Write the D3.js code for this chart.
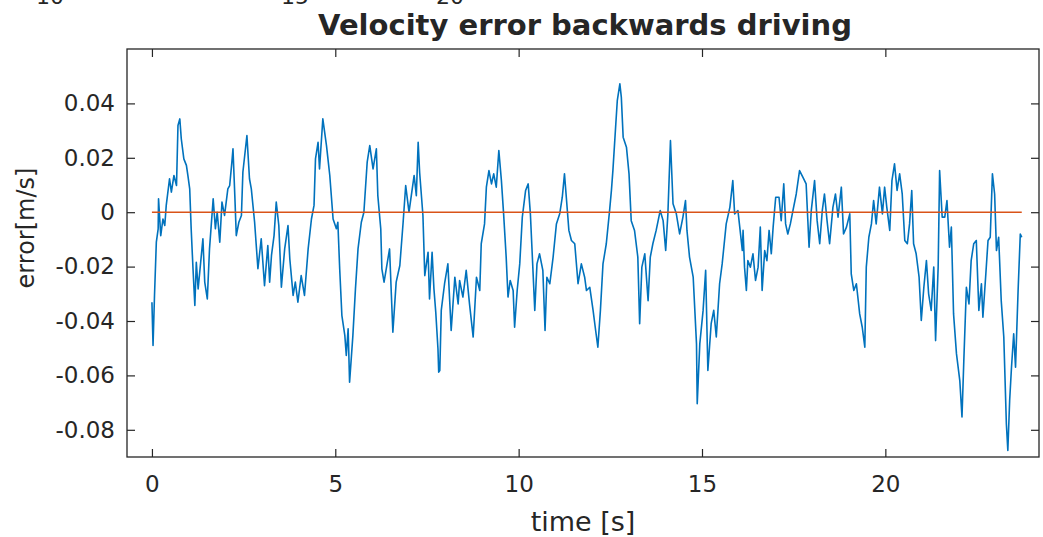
<!DOCTYPE html>
<html>
<head>
<meta charset="utf-8">
<script src="https://cdn.jsdelivr.net/npm/d3@7"></script>
<style>
  body { margin: 0; background: #fff; }
  text { font-family: "DejaVu Sans", sans-serif; fill: #262626; }
</style>
</head>
<body>
<div id="chart"></div>
<script>
// velocity error while driving backwards
const timeS = [
  0.00, 0.03, 0.07, 0.12, 0.17, 0.18, 0.24, 0.30, 0.35, 0.39, 0.48, 0.53, 0.60, 0.67, 0.71, 0.76,
  0.80, 0.87, 0.94, 0.98, 1.03, 1.07, 1.12, 1.17, 1.21, 1.26, 1.39, 1.44, 1.51, 1.57, 1.67, 1.73,
  1.78, 1.85, 1.91, 1.98, 2.07, 2.12, 2.18, 2.21, 2.26, 2.30, 2.37, 2.44, 2.48, 2.59, 2.66, 2.71,
  2.80, 2.89, 2.98, 3.07, 3.16, 3.21, 3.26, 3.33, 3.39, 3.46, 3.53, 3.62, 3.71, 3.76, 3.85, 3.91,
  3.98, 4.07, 4.16, 4.26, 4.35, 4.42, 4.46, 4.53, 4.57, 4.66, 4.76, 4.80, 4.85, 4.94, 5.03, 5.07,
  5.12, 5.18, 5.26, 5.30, 5.35, 5.39, 5.48, 5.55, 5.62, 5.71, 5.78, 5.87, 5.94, 6.03, 6.12, 6.16,
  6.24, 6.27, 6.33, 6.48, 6.53, 6.57, 6.66, 6.76, 6.85, 6.92, 7.01, 7.15, 7.21, 7.26, 7.30, 7.39,
  7.44, 7.53, 7.57, 7.64, 7.69, 7.74, 7.80, 7.82,
  7.85, 7.89, 7.98, 8.07, 8.16, 8.26, 8.35, 8.39, 8.48, 8.57, 8.66, 8.76, 8.85, 8.94, 8.98, 9.07,
  9.12, 9.19, 9.26, 9.32, 9.39, 9.46, 9.53, 9.59, 9.66, 9.71, 9.77, 9.85, 9.89, 9.96, 10.03, 10.10,
  10.19, 10.26, 10.32, 10.37, 10.44, 10.50, 10.57, 10.66, 10.72, 10.77, 10.85, 10.94, 11.03, 11.12, 11.19, 11.25,
  11.30, 11.37, 11.44, 11.53, 11.62, 11.71, 11.80, 11.85, 11.94, 12.03, 12.10, 12.16, 12.23, 12.30, 12.39, 12.48,
  12.53, 12.57, 12.65, 12.69, 12.76, 12.80, 12.85, 12.94, 13.01, 13.07, 13.16, 13.25, 13.30, 13.36, 13.44, 13.53,
  13.59, 13.66, 13.75, 13.86, 13.94, 14.01, 14.07, 14.14, 14.21, 14.30, 14.39, 14.48, 14.55, 14.59, 14.66, 14.76,
  14.85, 14.87, 14.94, 15.03, 15.10, 15.16, 15.25, 15.32, 15.39, 15.48, 15.55, 15.66, 15.76,
  15.84, 15.89, 15.98, 16.03, 16.10, 16.12, 16.16, 16.21, 16.25, 16.32, 16.39, 16.46, 16.53, 16.59, 16.64, 16.71,
  16.77, 16.83, 16.89, 16.94, 17.01, 17.10, 17.16, 17.23, 17.28, 17.34, 17.41, 17.48, 17.57, 17.66, 17.75, 17.84,
  17.92, 17.98, 18.07, 18.14, 18.21, 18.28, 18.34, 18.41, 18.48, 18.57, 18.64, 18.71, 18.80, 18.86, 18.94, 19.03,
  19.07, 19.14, 19.21, 19.30, 19.37, 19.44, 19.48, 19.55, 19.62, 19.68, 19.75, 19.84, 19.92, 19.98, 20.04, 20.12,
  20.18, 20.25, 20.32, 20.39, 20.46, 20.53, 20.60, 20.66, 20.72, 20.77, 20.84, 20.92, 20.98, 21.05, 21.12, 21.18,
  21.25, 21.32, 21.37, 21.44, 21.48, 21.55, 21.62, 21.68, 21.75, 21.80, 21.86, 21.94, 22.03, 22.09, 22.14, 22.21,
  22.28, 22.34, 22.41, 22.48, 22.55, 22.62, 22.66, 22.74, 22.80, 22.86, 22.92, 22.98, 23.03, 23.09, 23.16, 23.23,
  23.30, 23.34, 23.39, 23.44, 23.50, 23.55, 23.62, 23.68, 23.72
];
const errorMS = [
  -0.0331, -0.0490, -0.0306, -0.0110, -0.0061, 0.0049, -0.0086, -0.0025, -0.0049, 0.0025, 0.0123, 0.0074, 0.0135, 0.0098, 0.0319, 0.0343,
  0.0270, 0.0196, 0.0172, 0.0135, 0.0086, -0.0061, -0.0208, -0.0343, -0.0184, -0.0282, -0.0098, -0.0257, -0.0319, -0.0135, 0.0049, -0.0061,
  0.0000, -0.0110, 0.0037, -0.0012, 0.0086, 0.0098, 0.0184, 0.0233, 0.0061, -0.0086, -0.0037, -0.0012, 0.0147, 0.0282, 0.0123, 0.0086,
  -0.0037, -0.0208, -0.0098, -0.0270, -0.0123, -0.0257, -0.0159, -0.0086, 0.0037, -0.0049, -0.0276, -0.0135, -0.0049, -0.0172, -0.0306, -0.0257,
  -0.0331, -0.0233, -0.0306, -0.0135, -0.0025, 0.0025, 0.0196, 0.0257, 0.0159, 0.0343, 0.0245, 0.0196, 0.0135, -0.0025, -0.0061, -0.0037,
  -0.0208, -0.0380, -0.0453, -0.0527, -0.0429, -0.0625, -0.0453, -0.0282, -0.0135, -0.0037, 0.0000, 0.0184, 0.0245, 0.0159, 0.0233, 0.0061,
  -0.0061, -0.0208, -0.0257, -0.0135, -0.0306, -0.0441, -0.0257, -0.0196, -0.0037, 0.0098, 0.0000, 0.0135, 0.0061, 0.0257, 0.0147, -0.0012,
  -0.0233, -0.0147, -0.0319, -0.0147, -0.0282, -0.0368, -0.0502, -0.0588,
  -0.0582, -0.0361, -0.0263, -0.0190, -0.0435, -0.0239, -0.0337, -0.0251, -0.0312, -0.0214, -0.0337, -0.0459, -0.0239, -0.0288, -0.0116, -0.0043,
  0.0092, 0.0153, 0.0104, 0.0141, 0.0092, 0.0227, 0.0116, -0.0006, -0.0165, -0.0312, -0.0251, -0.0288, -0.0423, -0.0288, -0.0190, -0.0018,
  0.0080, 0.0104, -0.0006, -0.0153, -0.0361, -0.0190, -0.0153, -0.0214, -0.0435, -0.0239, -0.0263, -0.0165, -0.0043, -0.0006, 0.0055, 0.0141,
  0.0055, -0.0067, -0.0104, -0.0116, -0.0263, -0.0190, -0.0239, -0.0288, -0.0276, -0.0361, -0.0435, -0.0496, -0.0361, -0.0190, -0.0116, 0.0006,
  0.0080, 0.0153, 0.0325, 0.0410, 0.0472, 0.0423, 0.0276, 0.0239, 0.0141, -0.0031, -0.0067, -0.0165, -0.0410, -0.0202, -0.0153, -0.0325,
  -0.0165, -0.0116, -0.0067, 0.0006, -0.0031, -0.0141, -0.0006, 0.0263, 0.0031, -0.0006, -0.0080, -0.0018, 0.0043, -0.0067, -0.0165, -0.0239,
  -0.0484, -0.0704, -0.0484, -0.0361, -0.0214, -0.0582, -0.0410, -0.0361, -0.0459, -0.0263, -0.0190, -0.0043, 0.0018,
  0.0116, -0.0006, 0.0006, -0.0055, -0.0141, -0.0067, -0.0202, -0.0288, -0.0178, -0.0202, -0.0153, -0.0251, -0.0202, -0.0055, -0.0288, -0.0141,
  -0.0178, -0.0067, -0.0153, -0.0055, 0.0055, 0.0055, -0.0031, 0.0104, -0.0043, -0.0080, -0.0043, 0.0006, 0.0067, 0.0153, 0.0129, 0.0104,
  -0.0129, 0.0006, 0.0116, -0.0031, -0.0116, 0.0006, 0.0067, -0.0031, -0.0116, 0.0018, 0.0067, -0.0018, 0.0092, -0.0080, -0.0055, -0.0006,
  -0.0227, -0.0288, -0.0263, -0.0374, -0.0423, -0.0496, -0.0202, -0.0092, -0.0043, 0.0043, -0.0043, 0.0092, -0.0006, 0.0092, 0.0018, -0.0067,
  0.0116, 0.0178, 0.0080, 0.0141, 0.0067, -0.0104, -0.0116, -0.0043, 0.0080, -0.0116, -0.0153, -0.0239, -0.0398, -0.0276, -0.0178, -0.0300,
  -0.0361, -0.0202, -0.0472, -0.0202, 0.0153, -0.0018, -0.0018, 0.0043, -0.0129, -0.0055, -0.0374, -0.0521, -0.0619, -0.0753, -0.0545, -0.0276,
  -0.0337, -0.0178, -0.0116, -0.0104, -0.0361, -0.0263, -0.0386, -0.0227, -0.0104, -0.0092, 0.0141, 0.0067, -0.0141, -0.0092, -0.0325, -0.0459,
  -0.0778, -0.0876, -0.0692, -0.0570, -0.0447, -0.0570, -0.0288, -0.0080, -0.0092
];
// reference (zero) line
const refT = [0, 23.72];
const refErr = [0, 0];

const xTicks = [0, 5, 10, 15, 20];
const yTicks = [-0.08, -0.06, -0.04, -0.02, 0, 0.02, 0.04];
const prevLabels = ["10", "15", "20"]; // cut off labels of the plot above

const W = 1043, H = 537;
const margin = {top: 49, right: 4, bottom: 80, left: 127};
const width = W - margin.left - margin.right,
  height = H - margin.top - margin.bottom;

const svg = d3.select("#chart").append("svg")
  .attr("width", W).attr("height", H);

const g = svg.append("g")
  .attr("transform", `translate(${margin.left},${margin.top})`);

const x = d3.scaleLinear().domain([-0.68, 24.19]).range([0, width]);
const y = d3.scaleLinear().domain([-0.09, 0.06]).range([height, 0]);

const tickLen = 8;
const axisColor = "#262626";

// axes: ticks point inwards, mirrored on top/right
function styleAxis(sel) {
  sel.select(".domain").remove();
  sel.selectAll("line").attr("stroke", axisColor).attr("stroke-width", 1.2);
  sel.selectAll("text").style("font-size", "23px").attr("fill", axisColor);
}

g.append("g").attr("transform", `translate(0,${height})`)
  .call(d3.axisBottom(x).tickValues(xTicks).tickSize(-tickLen).tickPadding(19).tickFormat(d3.format("d")))
  .call(styleAxis);
g.append("g")
  .call(d3.axisTop(x).tickValues(xTicks).tickSize(-tickLen).tickFormat(""))
  .call(styleAxis);
g.append("g")
  .call(d3.axisLeft(y).tickValues(yTicks).tickSize(-tickLen).tickPadding(12)
    .tickFormat(d => d === 0 ? "0" : d3.format(".2f")(d).replace("\u2212", "-")))
  .call(styleAxis);
g.append("g").attr("transform", `translate(${width},0)`)
  .call(d3.axisRight(y).tickValues(yTicks).tickSize(-tickLen).tickFormat(""))
  .call(styleAxis);

// lines
const line = d3.line().x(d => x(d[0])).y(d => y(d[1]));
g.append("path")
  .datum(timeS.map((t, i) => [t, errorMS[i]]))
  .attr("fill", "none").attr("stroke", "#0072BD").attr("stroke-width", 1.6)
  .attr("stroke-linejoin", "round")
  .attr("d", line);
g.append("path")
  .datum(refT.map((t, i) => [t, refErr[i]]))
  .attr("fill", "none").attr("stroke", "#D95319").attr("stroke-width", 1.6)
  .attr("d", line);

// box
g.append("rect").attr("width", width).attr("height", height)
  .attr("fill", "none").attr("stroke", axisColor).attr("stroke-width", 1.3);

// labels
g.append("text")
  .attr("x", width / 2 + 2).attr("y", -14)
  .attr("text-anchor", "middle")
  .style("font-size", "29px").style("font-weight", "bold")
  .attr("fill", "#000")
  .text("Velocity error backwards driving");

g.append("text")
  .attr("x", width / 2).attr("y", height + 74)
  .attr("text-anchor", "middle")
  .style("font-size", "27px")
  .text("time [s]");

g.append("text")
  .attr("transform", `translate(${-93},${height / 2 - 25}) rotate(-90)`)
  .attr("text-anchor", "middle")
  .style("font-size", "24px")
  .text("error[m/s]");

// remains of the previous figure's labels
svg.selectAll(".prev")
  .data(prevLabels)
  .join("text")
  .attr("class", "prev")
  .attr("x", (d, i) => [50, 295, 450][i])
  .attr("y", 4)
  .attr("text-anchor", "middle")
  .style("font-size", "22px")
  .text(d => d);
</script>
</body>
</html>
